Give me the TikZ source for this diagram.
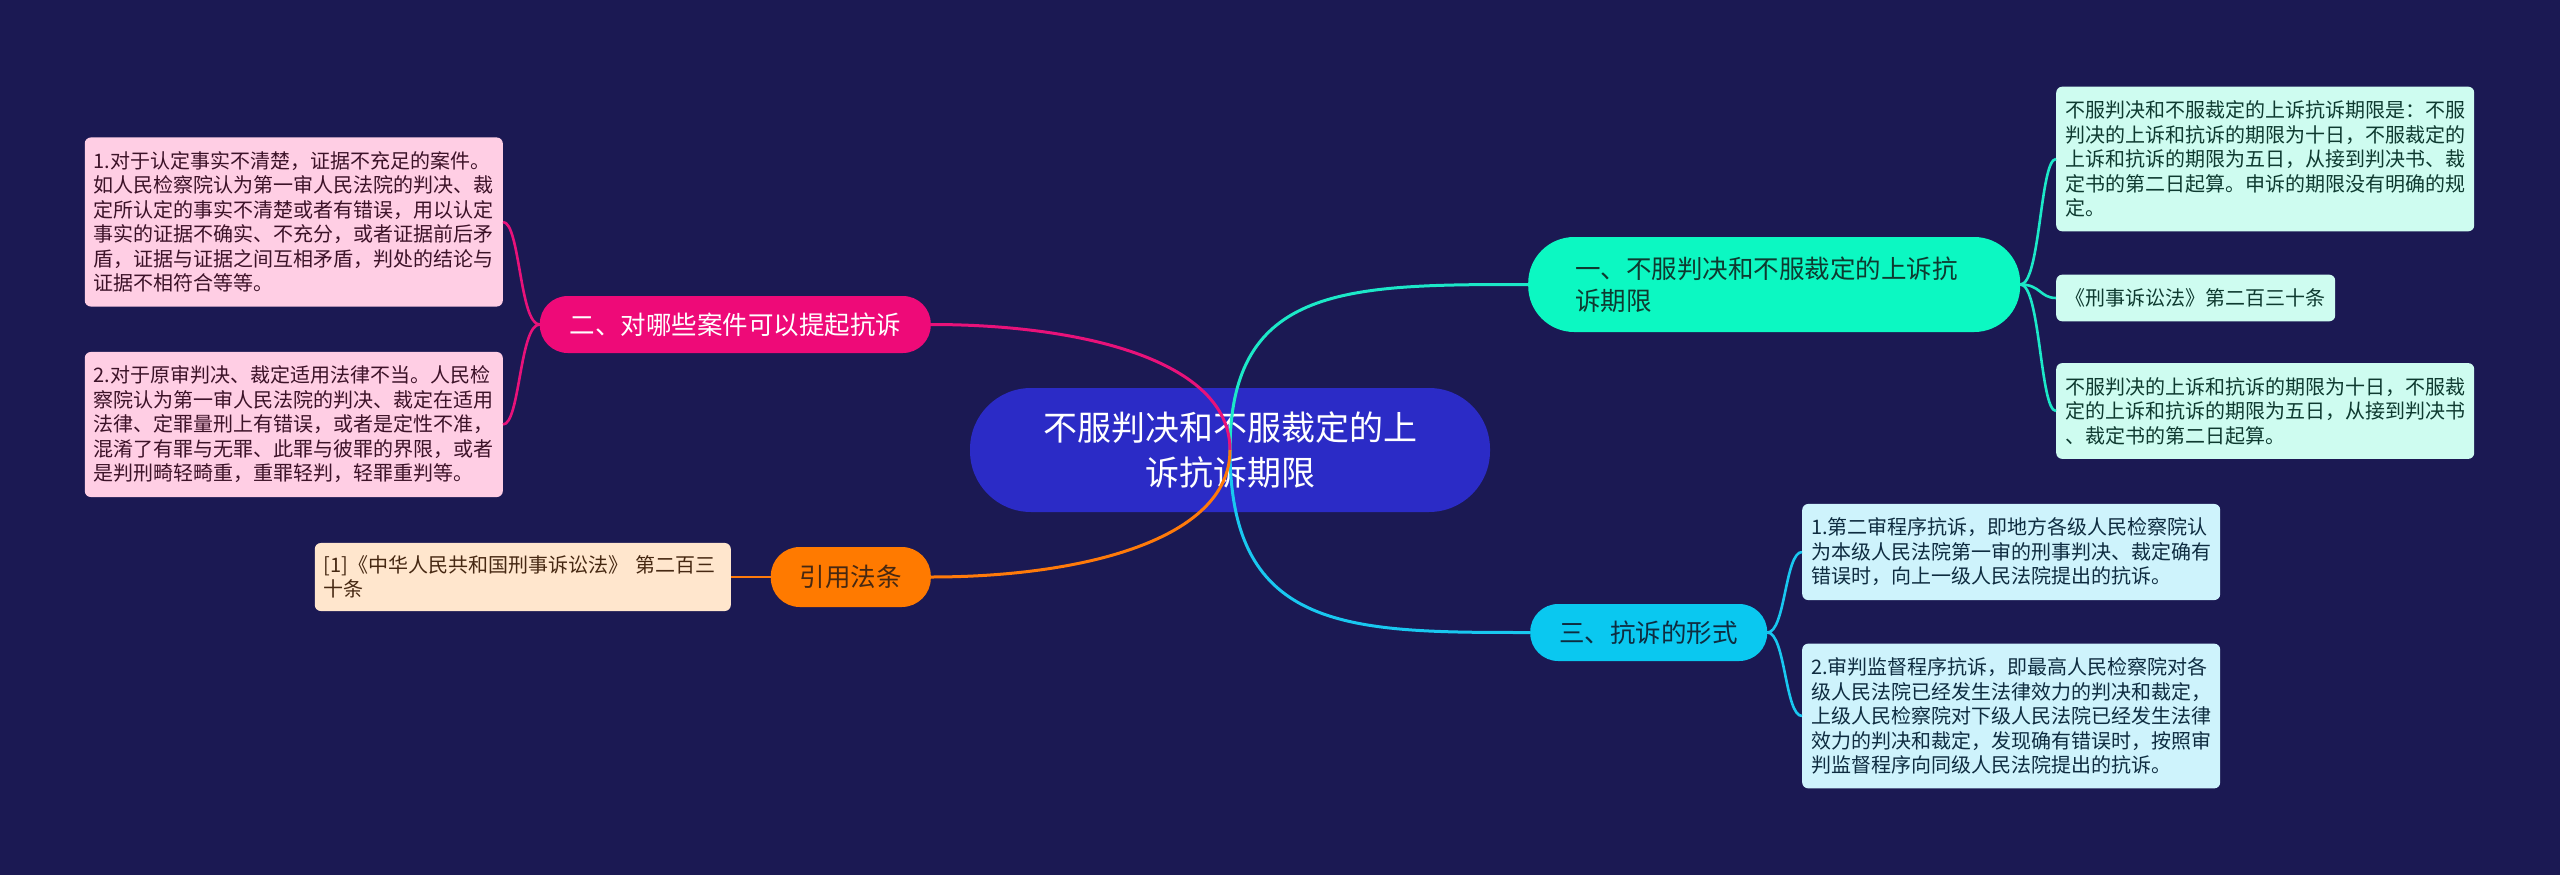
\documentclass[tikz,border=0pt]{standalone}
\usepackage{fontspec}
\setmainfont{Noto Sans CJK SC}
\usetikzlibrary{calc}
\definecolor{bg}{RGB}{27,25,83}
\definecolor{rootfill}{RGB}{43,43,198}
\definecolor{pinkfill}{RGB}{238,10,120}
\definecolor{orangefill}{RGB}{255,122,0}
\definecolor{greenfill}{RGB}{12,248,194}
\definecolor{cyanfill}{RGB}{10,200,240}
\definecolor{pinkleaf}{RGB}{255,206,228}
\definecolor{peachleaf}{RGB}{255,230,205}
\definecolor{mintleaf}{RGB}{206,252,240}
\definecolor{cyanleaf}{RGB}{206,243,252}
\definecolor{pinktext}{RGB}{60,18,40}
\definecolor{peachtext}{RGB}{70,40,18}
\definecolor{minttext}{RGB}{14,58,48}
\definecolor{cyantext}{RGB}{14,44,64}
\definecolor{pinkline}{RGB}{232,18,122}
\definecolor{orangeline}{RGB}{255,122,10}
\definecolor{greenline}{RGB}{28,232,200}
\definecolor{cyanline}{RGB}{25,200,240}
\begin{document}
\begin{tikzpicture}[x=1pt,y=-1pt,
  leafbase/.style={rounded corners=6pt, inner xsep=9pt, inner ysep=14pt, font=\fontsize{20}{24.5}\selectfont},
  leaf/.style={leafbase, text width=400pt, align=left},
  branch/.style={rounded corners=28pt, inner sep=0pt, minimum height=57pt, align=center, font=\fontsize{25.5}{32}\selectfont},
  conn/.style={line width=3pt},
  leafconn/.style={line width=2.6pt}]
\fill[bg] (0,0) rectangle (2560,875);
\useasboundingbox (0,0) rectangle (2560,875);

% root
\node[fill=rootfill, rounded corners=61pt, minimum width=520pt, minimum height=124pt, inner sep=0pt, align=center, text=white, font=\fontsize{34}{45}\selectfont] (root) at (1230,450) {不服判决和不服裁定的上\\诉抗诉期限};

% branches
\node[branch, fill=greenfill, text=minttext, anchor=west, minimum height=95pt, rounded corners=46pt, inner xsep=47pt, text width=398pt, align=left] (n1) at (1528,284.5) {一、不服判决和不服裁定的上诉抗\\诉期限};
\node[branch, fill=pinkfill, text=white, anchor=east, minimum width=391pt] (n2) at (931,324.5) {二、对哪些案件可以提起抗诉};
\node[branch, fill=cyanfill, text=cyantext, anchor=west, minimum width=237pt] (n3) at (1530,632.5) {三、抗诉的形式};
\node[branch, fill=orangefill, text=peachtext, anchor=east, minimum width=160pt, minimum height=60pt, rounded corners=29pt] (n4) at (931,577) {引用法条};

% leaves of n1
\node[leaf, fill=mintleaf, text=minttext, anchor=west] (a1) at (2056,159) {不服判决和不服裁定的上诉抗诉期限是：不服\\判决的上诉和抗诉的期限为十日，不服裁定的\\上诉和抗诉的期限为五日，从接到判决书、裁\\定书的第二日起算。申诉的期限没有明确的规\\定。};
\node[leafbase, fill=mintleaf, text=minttext, anchor=west, inner xsep=9.5pt] (a2) at (2056,298) {《刑事诉讼法》第二百三十条};
\node[leaf, fill=mintleaf, text=minttext, anchor=west] (a3) at (2056,411) {不服判决的上诉和抗诉的期限为十日，不服裁\\定的上诉和抗诉的期限为五日，从接到判决书\\、裁定书的第二日起算。};

% leaves of n2
\node[leaf, fill=pinkleaf, text=pinktext, anchor=east] (b1) at (503,222) {1.对于认定事实不清楚，证据不充足的案件。\\如人民检察院认为第一审人民法院的判决、裁\\定所认定的事实不清楚或者有错误，用以认定\\事实的证据不确实、不充分，或者证据前后矛\\盾，证据与证据之间互相矛盾，判处的结论与\\证据不相符合等等。};
\node[leaf, fill=pinkleaf, text=pinktext, anchor=east] (b2) at (503,424.5) {2.对于原审判决、裁定适用法律不当。人民检\\察院认为第一审人民法院的判决、裁定在适用\\法律、定罪量刑上有错误，或者是定性不准，\\混淆了有罪与无罪、此罪与彼罪的界限，或者\\是判刑畸轻畸重，重罪轻判，轻罪重判等。};

% leaves of n3
\node[leaf, fill=cyanleaf, text=cyantext, anchor=west] (c1) at (1802,552) {1.第二审程序抗诉，即地方各级人民检察院认\\为本级人民法院第一审的刑事判决、裁定确有\\错误时，向上一级人民法院提出的抗诉。};
\node[leaf, fill=cyanleaf, text=cyantext, anchor=west] (c2) at (1802,716) {2.审判监督程序抗诉，即最高人民检察院对各\\级人民法院已经发生法律效力的判决和裁定，\\上级人民检察院对下级人民法院已经发生法律\\效力的判决和裁定，发现确有错误时，按照审\\判监督程序向同级人民法院提出的抗诉。};

% leaf of n4
\node[leaf, fill=peachleaf, text=peachtext, anchor=east, text width=398pt, inner ysep=12.5pt] (d1) at (731,577) {[1]《中华人民共和国刑事诉讼法》 第二百三\\十条};

% root connectors
\draw[conn, greenline] (root.center) .. controls (root.center |- n1.west) and ($(n1.west)+(-180,0)$) .. (n1.west);
\draw[conn, cyanline] (root.center) .. controls (root.center |- n3.west) and ($(n3.west)+(-180,0)$) .. (n3.west);
\draw[conn, pinkline] (root.center) .. controls ($(root.center)+(0,-90)$) and ($(n2.east)+(150,0)$) .. (n2.east);
\draw[conn, orangeline] (root.center) .. controls ($(root.center)+(0,90)$) and ($(n4.east)+(150,0)$) .. (n4.east);

% leaf connectors
\foreach \t in {a1,a2,a3}
  \draw[leafconn, greenline] (n1.east) .. controls ($(n1.east)+(20,0)$) and ($(\t.west)+(-16,0)$) .. (\t.west);
\foreach \t in {c1,c2}
  \draw[leafconn, cyanline] (n3.east) .. controls ($(n3.east)+(18,0)$) and ($(\t.west)+(-17,0)$) .. (\t.west);
\foreach \t in {b1,b2}
  \draw[leafconn, pinkline] (n2.west) .. controls ($(n2.west)+(-20,0)$) and ($(\t.east)+(17,0)$) .. (\t.east);
\draw[leafconn, orangeline] (n4.west) -- (d1.east);
\end{tikzpicture}
\end{document}
